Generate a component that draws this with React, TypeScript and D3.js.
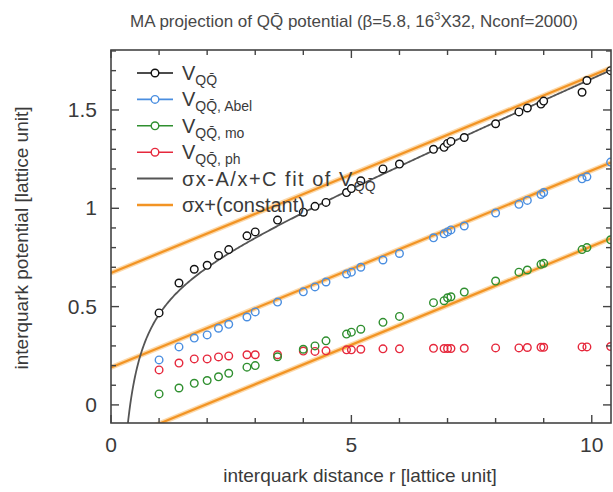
import React, { useRef, useEffect } from "react";
import * as d3 from "d3";

// lattice separations r (on-axis and off-axis vectors)
const rValues = [
  1, 1.414, 1.732, 2, 2.236, 2.449, 2.828, 3, 3.464, 4, 4.243, 4.472, 4.899, 5,
  5.196, 5.657, 6, 6.708, 6.928, 7, 7.071, 7.348, 8, 8.485, 8.66, 8.944, 9,
  9.798, 9.899, 10.392,
];

const vFull = [
  0.468, 0.62, 0.69, 0.71, 0.76, 0.79, 0.86, 0.88, 0.94, 0.98, 1.01, 1.03, 1.08,
  1.1, 1.14, 1.2, 1.225, 1.3, 1.31, 1.33, 1.34, 1.36, 1.43, 1.49, 1.51, 1.53,
  1.545, 1.59, 1.65, 1.7,
];
const vAbel = [
  0.229, 0.295, 0.34, 0.356, 0.39, 0.41, 0.447, 0.473, 0.523, 0.575, 0.6, 0.625,
  0.666, 0.675, 0.7, 0.737, 0.77, 0.85, 0.87, 0.88, 0.89, 0.91, 0.976, 1.02,
  1.04, 1.07, 1.08, 1.15, 1.16, 1.235,
];
const vMono = [
  0.056, 0.086, 0.11, 0.124, 0.143, 0.161, 0.192, 0.2, 0.245, 0.283, 0.3, 0.326,
  0.36, 0.37, 0.385, 0.42, 0.45, 0.52, 0.53, 0.545, 0.55, 0.574, 0.63, 0.675,
  0.686, 0.715, 0.72, 0.79, 0.8, 0.84,
];
const vPhoton = [
  0.178, 0.213, 0.234, 0.234, 0.244, 0.249, 0.255, 0.255, 0.255, 0.274, 0.272,
  0.275, 0.28, 0.28, 0.283, 0.285, 0.285, 0.288, 0.287, 0.287, 0.287, 0.288,
  0.29, 0.29, 0.292, 0.293, 0.293, 0.295, 0.295, 0.297,
];

// sigma*x - A/x + C fit of the full potential
const fitSigma = 0.107;
const fitA = 0.262;
const fitC = 0.615;

// sigma*x + constant lines
const lineSigma = 0.1003;
const lineConstants = [0.671, 0.19, -0.196];

const xTicks = [0, 5, 10];
const yTicks = [0, 0.5, 1, 1.5];

const series = [
  { key: "full", values: vFull, color: "#111111", sub: "QQ\u0304" },
  { key: "abel", values: vAbel, color: "#4a8ee0", sub: "QQ\u0304, Abel" },
  { key: "mono", values: vMono, color: "#2f8f2f", sub: "QQ\u0304, mo" },
  { key: "ph", values: vPhoton, color: "#e6283c", sub: "QQ\u0304, ph" },
];

const W = 613;
const H = 492;
const FONT = "'Liberation Sans', Arial, sans-serif";

const App = () => {
  const ref = useRef(null);

  useEffect(() => {
    const svg = d3.select(ref.current);
    svg.selectAll("*").remove();

    const left = 111,
      right = 611,
      top = 50,
      bottom = 423;

    const x = d3.scaleLinear().domain([0, 10.4]).range([left, right]);
    const y = d3.scaleLinear().domain([-0.092, 1.805]).range([bottom, top]);

    svg
      .append("defs")
      .append("clipPath")
      .attr("id", "plotclip")
      .append("rect")
      .attr("x", left)
      .attr("y", top)
      .attr("width", right - left)
      .attr("height", bottom - top);

    const plot = svg.append("g").attr("clip-path", "url(#plotclip)");

    // orange sigma*x + const lines
    lineConstants.forEach((c) => {
      plot
        .append("line")
        .attr("x1", x(0))
        .attr("y1", y(c))
        .attr("x2", x(10.4))
        .attr("y2", y(lineSigma * 10.4 + c))
        .attr("stroke", "#fcd9aa")
        .attr("stroke-width", 5);
      plot
        .append("line")
        .attr("x1", x(0))
        .attr("y1", y(c))
        .attr("x2", x(10.4))
        .attr("y2", y(lineSigma * 10.4 + c))
        .attr("stroke", "#f29424")
        .attr("stroke-width", 2.2);
    });

    // fit curve
    const fitXs = d3.range(0.3, 10.45, 0.02);
    const line = d3
      .line()
      .x((d) => x(d))
      .y((d) => y(fitSigma * d - fitA / d + fitC));
    plot
      .append("path")
      .attr("d", line(fitXs))
      .attr("fill", "none")
      .attr("stroke", "#555555")
      .attr("stroke-width", 1.8);

    // points
    series
      .slice()
      .reverse()
      .forEach((s) => {
        plot
          .append("g")
          .selectAll("circle")
          .data(s.values)
          .enter()
          .append("circle")
          .attr("cx", (d, i) => x(rValues[i]))
          .attr("cy", (d) => y(d))
          .attr("r", 3.8)
          .attr("fill", s.key === "full" ? "#ffffff" : "none")
          .attr("stroke", s.color)
          .attr("stroke-width", 1.4);
      });

    // frame
    const axisColor = "#444444";
    svg
      .append("rect")
      .attr("x", left)
      .attr("y", top)
      .attr("width", right - left)
      .attr("height", bottom - top)
      .attr("fill", "none")
      .attr("stroke", axisColor)
      .attr("stroke-width", 1.6);

    const ticks = svg.append("g").attr("stroke", axisColor).attr("stroke-width", 1.4);
    d3.range(0, 10.5, 1).forEach((v) => {
      const len = v % 5 === 0 ? 8 : 5;
      ticks.append("line").attr("x1", x(v)).attr("x2", x(v)).attr("y1", bottom).attr("y2", bottom - len);
      ticks.append("line").attr("x1", x(v)).attr("x2", x(v)).attr("y1", top).attr("y2", top + len);
    });
    d3.range(-0.0, 1.81, 0.1).forEach((v) => {
      const major = Math.abs(v * 2 - Math.round(v * 2)) < 1e-6;
      const len = major ? 8 : 5;
      ticks.append("line").attr("x1", left).attr("x2", left + len).attr("y1", y(v)).attr("y2", y(v));
      ticks.append("line").attr("x1", right).attr("x2", right - len).attr("y1", y(v)).attr("y2", y(v));
    });

    const txt = "#3a3a3a";
    svg
      .append("g")
      .selectAll("text")
      .data(xTicks)
      .enter()
      .append("text")
      .attr("x", (d) => x(d))
      .attr("y", 452)
      .attr("text-anchor", "middle")
      .attr("font-family", FONT)
      .attr("font-size", 21)
      .attr("fill", txt)
      .text((d) => d);

    svg
      .append("g")
      .selectAll("text")
      .data(yTicks)
      .enter()
      .append("text")
      .attr("x", 97)
      .attr("y", (d) => y(d) + 7)
      .attr("text-anchor", "end")
      .attr("font-family", FONT)
      .attr("font-size", 21)
      .attr("fill", txt)
      .text((d) => d);

    svg
      .append("text")
      .attr("x", 360)
      .attr("y", 482)
      .attr("text-anchor", "middle")
      .attr("font-family", FONT)
      .attr("font-size", 19)
      .attr("fill", txt)
      .text("interquark distance r [lattice unit]");

    svg
      .append("text")
      .attr("transform", "translate(28,238) rotate(-90)")
      .attr("text-anchor", "middle")
      .attr("font-family", FONT)
      .attr("font-size", 19)
      .attr("fill", txt)
      .text("interquark potential [lattice unit]");

    // title
    const title = svg
      .append("text")
      .attr("x", 354)
      .attr("y", 27)
      .attr("text-anchor", "middle")
      .attr("font-family", FONT)
      .attr("font-size", 17)
      .attr("fill", "#484848");
    title.append("tspan").text("MA projection of QQ\u0304 potential (\u03b2=5.8, 16");
    title.append("tspan").attr("dy", -7).attr("font-size", 11).text("3");
    title.append("tspan").attr("dy", 7).text("X32, Nconf=2000)");

    // legend
    const lg = svg.append("g").attr("font-family", FONT).attr("fill", txt);
    const rowY = (i) => 73 + i * 26.4;
    series.forEach((s, i) => {
      lg.append("line")
        .attr("x1", 137)
        .attr("x2", 173)
        .attr("y1", rowY(i))
        .attr("y2", rowY(i))
        .attr("stroke", s.color)
        .attr("stroke-width", 1.6);
      lg.append("circle")
        .attr("cx", 155)
        .attr("cy", rowY(i))
        .attr("r", 3.8)
        .attr("fill", "#ffffff")
        .attr("stroke", s.color)
        .attr("stroke-width", 1.4);
      const t = lg.append("text").attr("x", 182).attr("y", rowY(i) + 7).attr("font-size", 20);
      t.append("tspan").text("V");
      t.append("tspan").attr("dy", 5).attr("font-size", 14).text(s.sub);
    });
    lg.append("line")
      .attr("x1", 137)
      .attr("x2", 173)
      .attr("y1", rowY(4))
      .attr("y2", rowY(4))
      .attr("stroke", "#555555")
      .attr("stroke-width", 2);
    const t5 = lg
      .append("text")
      .attr("x", 182)
      .attr("y", rowY(4) + 7)
      .attr("font-size", 20)
      .attr("letter-spacing", 1.5);
    t5.append("tspan").text("\u03c3x-A/x+C fit of V");
    t5.append("tspan").attr("dy", 5).attr("font-size", 14).attr("letter-spacing", 0).text("QQ\u0304");
    lg.append("line")
      .attr("x1", 137)
      .attr("x2", 173)
      .attr("y1", rowY(5))
      .attr("y2", rowY(5))
      .attr("stroke", "#f29424")
      .attr("stroke-width", 2.6);
    lg.append("text")
      .attr("x", 182)
      .attr("y", rowY(5) + 7)
      .attr("font-size", 20)
      .text("\u03c3x+(constant)");
  }, []);

  return (
    <svg
      ref={ref}
      width={W}
      height={H}
      style={{ position: "absolute", left: 0, top: 0, background: "#ffffff" }}
    ></svg>
  );
};

export default App;
